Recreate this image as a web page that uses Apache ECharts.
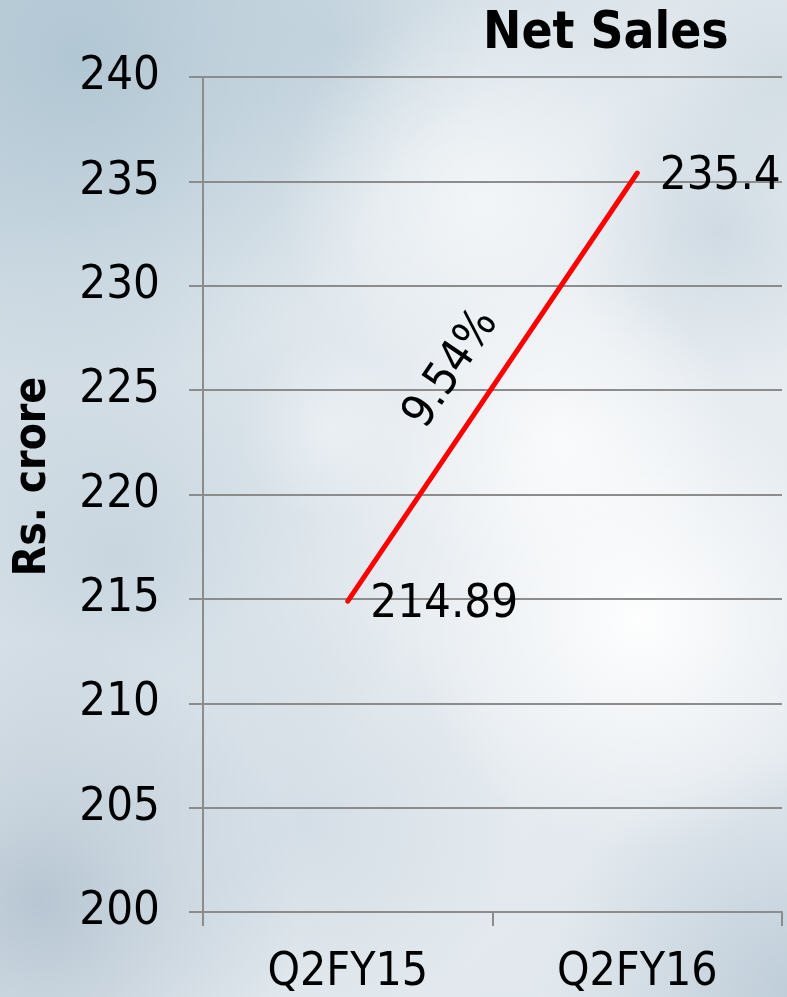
<!DOCTYPE html>
<html>
<head>
<meta charset="utf-8">
<style>
  html, body { margin: 0; padding: 0; }
  #chart { width: 787px; height: 997px; }
</style>
<script src="https://cdn.jsdelivr.net/npm/echarts@6/dist/echarts.min.js"></script>
</head>
<body>
<div id="chart"></div>
<script>
// Net sales, Rs. crore, second quarter year on year
const quarters = ['Q2FY15', 'Q2FY16'];
const netSales = [214.89, 235.4];
const growthLabel = '9.54%';
const yTicks = [200, 205, 210, 215, 220, 225, 230, 235, 240];

const FONT = '"DejaVu Sans Condensed", "DejaVu Sans", sans-serif';
const GRID_COLOR = '#8c8c8c';

// soft sky backdrop: radial blobs fading to transparent
function blob(cx, cy, r, rgb, a) {
  return {
    type: 'circle',
    z: -100,
    silent: true,
    shape: { cx: cx, cy: cy, r: r },
    style: {
      fill: new echarts.graphic.RadialGradient(0.5, 0.5, 0.5, [
        { offset: 0, color: 'rgba(' + rgb + ',' + a + ')' },
        { offset: 1, color: 'rgba(' + rgb + ',0)' }
      ])
    }
  };
}
const sky = [
  blob(80, 60, 330, '168,192,207', 0.75),
  blob(330, 40, 160, '185,204,216', 0.5),
  blob(120, 560, 300, '178,197,211', 0.55),
  blob(40, 900, 260, '150,172,190', 0.6),
  blob(300, 820, 220, '190,205,217', 0.45),
  blob(790, 990, 240, '165,186,202', 0.55),
  blob(720, 230, 160, '186,203,215', 0.55),
  blob(780, 80, 120, '190,205,216', 0.45),
  blob(640, 620, 230, '255,255,255', 0.95),
  blob(480, 200, 200, '255,255,255', 0.6),
  blob(560, 440, 170, '255,255,255', 0.7),
  blob(330, 430, 90, '240,244,247', 0.6)
];

const chart = echarts.init(document.getElementById('chart'));

const option = {
  backgroundColor: new echarts.graphic.LinearGradient(0, 0, 1, 1, [
    { offset: 0, color: '#c9d7e0' },
    { offset: 0.5, color: '#e9eef2' },
    { offset: 1, color: '#dfe6ec' }
  ]),
  animation: false,
  title: {
    text: 'Net Sales',
    left: 478,
    top: 4,
    textStyle: { fontFamily: FONT, fontSize: 51, fontWeight: 'bold', color: '#000' }
  },
  grid: { left: 203, right: 5, top: 77, bottom: 85, containLabel: false },
  xAxis: {
    type: 'category',
    data: quarters,
    boundaryGap: true,
    axisLine: { show: true, lineStyle: { color: GRID_COLOR, width: 2 } },
    axisTick: { show: true, length: 14, lineStyle: { color: GRID_COLOR, width: 2 } },
    axisLabel: { margin: 38, color: '#000', fontFamily: FONT, fontSize: 46 },
    splitLine: { show: false }
  },
  yAxis: {
    type: 'value',
    min: yTicks[0],
    max: yTicks[yTicks.length - 1],
    interval: yTicks[1] - yTicks[0],
    name: 'Rs. crore',
    nameLocation: 'middle',
    nameGap: 147,
    nameTextStyle: {
      fontFamily: FONT, fontSize: 44, fontWeight: 'bold', color: '#000',
      padding: [0, 0, 0, 36]
    },
    axisLine: { show: true, lineStyle: { color: GRID_COLOR, width: 2 } },
    axisTick: { show: true, length: 14, lineStyle: { color: GRID_COLOR, width: 2 } },
    axisLabel: { margin: 43, color: '#000', fontFamily: FONT, fontSize: 47 },
    splitLine: { show: true, lineStyle: { color: GRID_COLOR, width: 2 } }
  },
  series: [{
    type: 'line',
    data: netSales,
    showSymbol: true,
    symbol: 'circle',
    symbolSize: 1,
    itemStyle: { color: '#ff0000' },
    lineStyle: { color: '#ff0000', width: 5, cap: 'round' },
    label: {
      show: true,
      position: 'right',
      distance: 22,
      offset: [0, 4],
      color: '#000',
      fontFamily: FONT,
      fontSize: 47,
      formatter: function (p) { return String(p.value); }
    },
    z: 5
  }],
  graphic: sky
};
chart.setOption(option);

// growth annotation placed alongside the segment, rotated to its slope
const p0 = chart.convertToPixel({ xAxisIndex: 0, yAxisIndex: 0 }, [0, netSales[0]]);
const p1 = chart.convertToPixel({ xAxisIndex: 0, yAxisIndex: 0 }, [1, netSales[1]]);
const dx = p1[0] - p0[0], dy = p1[1] - p0[1];
const len = Math.sqrt(dx * dx + dy * dy);
const ux = dx / len, uy = dy / len;      // along the segment
const nx = uy, ny = -ux;                 // perpendicular, toward upper left
const mx = (p0[0] + p1[0]) / 2, my = (p0[1] + p1[1]) / 2;
const off = 44, along = -8;
const angle = Math.atan2(-dy, dx);

chart.setOption({
  graphic: sky.concat([{
    type: 'text',
    z: 10,
    x: mx + nx * off + ux * along,
    y: my + ny * off + uy * along,
    rotation: angle,
    style: {
      text: growthLabel,
      fontFamily: FONT,
      fontSize: 46,
      fill: '#000',
      align: 'center',
      verticalAlign: 'middle'
    }
  }])
});
</script>
</body>
</html>
